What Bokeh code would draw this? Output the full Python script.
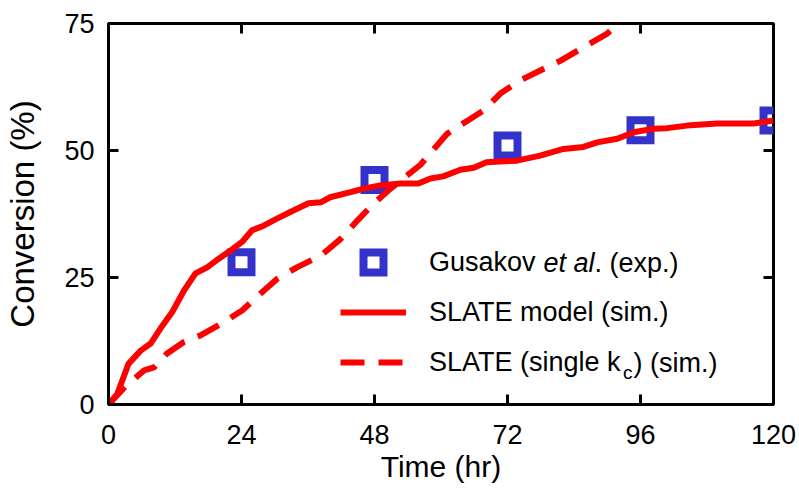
from bokeh.plotting import figure
from bokeh.models import Range1d, FixedTicker, LinearAxis, Legend, LegendItem, Label
from bokeh.embed import file_html
from bokeh.resources import INLINE

# ---------------- data ----------------
exp_time = [24, 48, 72, 96, 120]
exp_conv = [28.0, 44.2, 51.0, 54.0, 55.9]

model_time = [0, 1.6, 3.6, 5.8, 7.6, 9.4, 11.5, 13.6, 15.7, 17.8, 19.9, 22, 24.1, 25.9, 28,
              30.4, 32.8, 36.1, 38.3, 40, 43.7, 46, 49, 52.7, 55.9, 58.1, 60.4, 63.5, 65.9,
              68.2, 73.7, 77.9, 82.1, 85.7, 88.2, 91.8, 94.8, 98.4, 100.8, 104.4, 109.8, 116.4, 120]
model_conv = [0, 2.1, 8, 10.6, 12, 15, 18.2, 22.4, 25.8, 27, 28.7, 30.3, 32, 34.3, 35.2,
              36.6, 37.9, 39.6, 39.8, 40.8, 41.8, 42.5, 43.1, 43.5, 43.5, 44.5, 44.9, 46.2, 46.6,
              47.7, 48, 49, 50.3, 50.7, 51.6, 52.3, 53.6, 54.3, 54.4, 54.9, 55.3, 55.3, 55.9]

single_time = [0, 3, 6.4, 8.2, 10.5, 13.6, 16.6, 20.8, 24.1, 27.4, 30.4, 34, 38.3, 41.9, 44.9,
               47.8, 50.9, 53.9, 56.3, 58.5, 61.1, 62.9, 65, 67.7, 70.7, 74.3, 78, 81.6, 85.7,
               90, 92.4, 95]
single_conv = [0, 3.5, 6.7, 7.3, 10, 12.3, 13.6, 16.2, 18.5, 21.8, 24.7, 27, 29.3, 32.6, 36.2,
               39.5, 42.5, 45.1, 47.2, 50, 53.3, 54.6, 56, 57.9, 61.2, 63.8, 65.8, 67.7, 70.3,
               73, 75.5, 78]

x_ticks = [0, 24, 48, 72, 96, 120]
y_ticks = [0, 25, 50, 75]

legend_first = ["Gusakov", "SLATE model (sim.)", "SLATE (single k"]

FONT = "Liberation Sans"
RED = "#ff0000"
BLUE = "#3333cc"

p = figure(width=799, height=491, output_backend="svg", toolbar_location=None,
           x_range=Range1d(0, 120), y_range=Range1d(0, 75),
           min_border_left=108, min_border_right=26, min_border_top=23, min_border_bottom=87,
           x_axis_label="Time (hr)", y_axis_label="Conversion (%)")
p.background_fill_color = "white"
p.border_fill_color = "white"
p.grid.visible = False
p.outline_line_color = "black"
p.outline_line_width = 3

for ax, ticks in ((p.xaxis[0], x_ticks), (p.yaxis[0], y_ticks)):
    ax.ticker = FixedTicker(ticks=ticks)
    ax.axis_line_color = None
    ax.major_tick_in = 10
    ax.major_tick_out = 0
    ax.major_tick_line_width = 3
    ax.minor_tick_line_color = None
    ax.major_label_text_font = FONT
    ax.major_label_text_font_size = "27px"
    ax.major_label_text_color = "black"
    ax.axis_label_text_font = FONT
    ax.axis_label_text_font_style = "normal"
    ax.axis_label_text_color = "black"

p.xaxis[0].major_label_standoff = 20
p.xaxis[0].axis_label_standoff = 3
p.xaxis[0].axis_label_text_font_size = "30px"
p.yaxis[0].major_label_standoff = 14
p.yaxis[0].axis_label_standoff = 20
p.yaxis[0].axis_label_text_font_size = "33px"

top_ax = LinearAxis(ticker=FixedTicker(ticks=[], minor_ticks=x_ticks))
right_ax = LinearAxis(ticker=FixedTicker(ticks=[], minor_ticks=y_ticks))
for ax in (top_ax, right_ax):
    ax.axis_line_color = None
    ax.major_tick_line_color = None
    ax.minor_tick_in = 10
    ax.minor_tick_out = 0
    ax.minor_tick_line_width = 3
    ax.minor_tick_line_color = "black"
    ax.major_label_standoff = 0
p.add_layout(top_ax, "above")
p.add_layout(right_ax, "right")

r_exp = p.scatter(exp_time, exp_conv, marker="square", size=20, line_width=8,
                  line_color=BLUE, fill_color=None, line_join="miter")
r_model = p.line(model_time, model_conv, line_color=RED, line_width=6)
r_single = p.line(single_time, single_conv, line_color=RED, line_width=6, line_dash="24 14")

LFS = 27
legend = Legend(items=[LegendItem(label=legend_first[0], renderers=[r_exp]),
                       LegendItem(label=legend_first[1], renderers=[r_model]),
                       LegendItem(label=legend_first[2], renderers=[r_single])],
                location=(232, 17), glyph_width=66, glyph_height=50, label_height=50,
                spacing=0, padding=0, margin=0, label_standoff=23,
                border_line_color=None, background_fill_alpha=0,
                label_text_font=FONT, label_text_font_size=f"{LFS}px",
                label_text_color="black", label_text_baseline="middle")
p.add_layout(legend, "center")

lx = (429 - 108) / (665 / 120)          # legend text start, in data units
row_y = [27.95, 17.99, 8.15]             # legend row centres, in data units


def lab(text, y, off=0.0, style="normal", size=LFS, yoff=0):
    p.add_layout(Label(x=lx, y=y, x_offset=off, y_offset=yoff, text=text,
                       text_font=FONT, text_font_size=f"{size}px", text_font_style=style,
                       text_color="black", text_baseline="middle"))


lab("et al", row_y[0], off=LFS * 4.224, style="italic")
lab(". (exp.)", row_y[0], off=LFS * (4.224 + 1.89))
sub = 19
lab("c", row_y[2], off=LFS * 7.169, size=sub, yoff=-9)
lab(") (sim.)", row_y[2], off=LFS * 7.169 + sub * 0.5 + 1)

open("out.html", "w").write(file_html(p, INLINE))
